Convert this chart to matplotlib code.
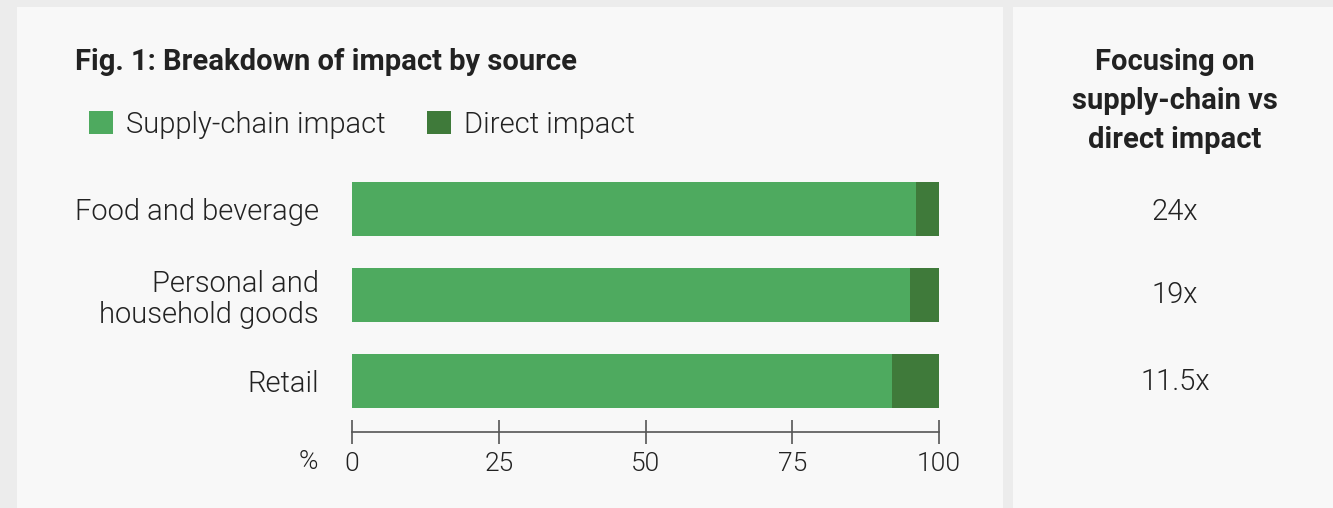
import matplotlib
matplotlib.use("Agg")
import matplotlib.pyplot as plt
from matplotlib.patches import Rectangle

categories = ["Food and beverage", "Personal and\nhousehold goods", "Retail"]
supply_chain = [96, 95, 92]
direct = [4, 5, 8]
ratios = ["24x", "19x", "11.5x"]
xticks = [0, 25, 50, 75, 100]

LIGHT = "#4eaa5f"
DARK = "#3f7a3a"
TXT = "#222222"
LW = 300
FS = 21

plt.rcParams['font.family'] = ['Roboto', 'DejaVu Sans']

W, H = 1333, 508
fig = plt.figure(figsize=(W / 100, H / 100), dpi=100, facecolor="#ececec")

def px(x0, y0, x1, y1):
    return [x0 / W, 1 - y1 / H, (x1 - x0) / W, (y1 - y0) / H]

# panels
fig.patches.append(Rectangle((17 / W, 0), (1003 - 17) / W, 1 - 7 / H,
                             transform=fig.transFigure, facecolor="#f8f8f8",
                             edgecolor="none", zorder=-5))
fig.patches.append(Rectangle((1013 / W, 0), (W - 1013) / W, 1 - 7 / H,
                             transform=fig.transFigure, facecolor="#f8f8f8",
                             edgecolor="none", zorder=-5))

ax = fig.add_axes(px(352, 158, 939, 432))
ax.set_zorder(2)
ax.set_facecolor("none")
y = list(range(len(categories)))
ax.barh(y, supply_chain, height=0.63, color=LIGHT, label="Supply-chain impact")
ax.barh(y, direct, left=supply_chain, height=0.63, color=DARK, label="Direct impact")
ax.set_xlim(0, 100)
ax.set_ylim(2.6, -0.6)
for s in ["top", "right", "left"]:
    ax.spines[s].set_visible(False)
ax.spines["bottom"].set_color("#555555")
ax.spines["bottom"].set_linewidth(1.2)
ax.set_xticks(xticks)
ax.set_xticklabels([str(t) for t in xticks])
ax.tick_params(axis="x", direction="inout", length=17, width=1.2, color="#555555",
               labelsize=19, labelcolor=TXT, pad=6)
for lab in ax.get_xticklabels():
    lab.set_fontweight(LW)
ax.set_yticks(y)
ax.set_yticklabels(categories, fontsize=FS, fontweight=LW, color=TXT,
                   linespacing=1.15)
ax.tick_params(axis="y", length=0, pad=24)

fig.text(308 / W, 1 - 462 / H, "%", fontsize=19, fontweight=LW, color=TXT,
         ha="center", va="center")

fig.text(75 / W, 1 - 62 / H, "Fig. 1: Breakdown of impact by source", fontsize=FS,
         fontweight="bold", color=TXT, ha="left", va="center")

# legend
handles, labels = ax.get_legend_handles_labels()
leg = fig.legend(handles, labels, loc="center left", bbox_to_anchor=(89 / W, 1 - 125 / H),
                 ncol=2, frameon=False, handlelength=0.83, handleheight=0.83,
                 handletextpad=0.45, columnspacing=1.4, borderpad=0, borderaxespad=0,
                 prop={"weight": LW, "size": FS})
for t in leg.get_texts():
    t.set_color(TXT)

# right panel
fig.text(1175 / W, 1 - 101 / H, "Focusing on\nsupply-chain vs\ndirect impact",
         fontsize=FS, fontweight="bold", color=TXT, ha="center", va="center",
         linespacing=1.48)
ratio_y = [212, 295, 382]
for r, yy in zip(ratios, ratio_y):
    fig.text(1175 / W, 1 - yy / H, r, fontsize=FS, fontweight=LW, color=TXT,
             ha="center", va="center")

fig.savefig("out.png", dpi=100, facecolor=fig.get_facecolor())
